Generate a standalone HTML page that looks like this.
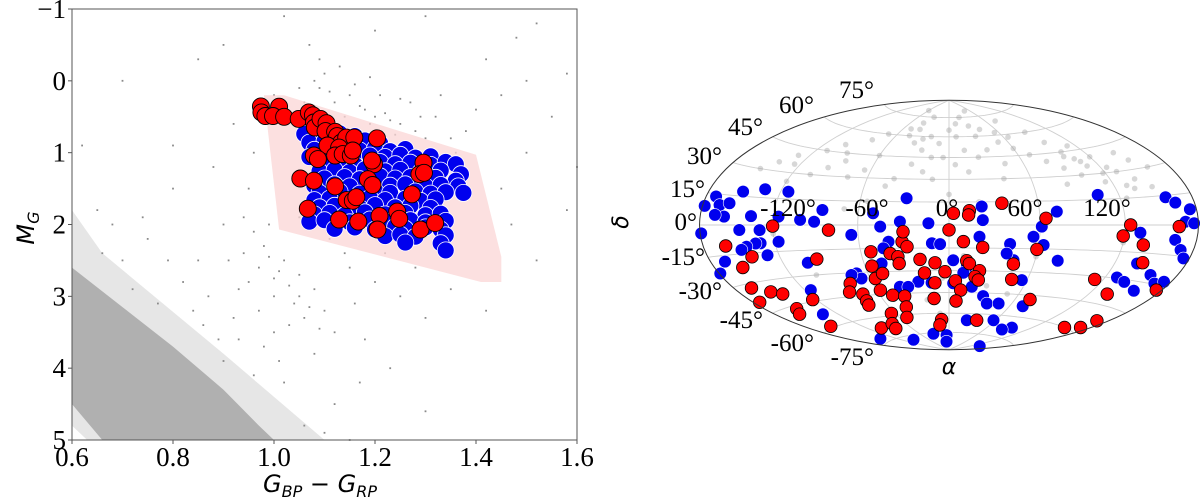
<!DOCTYPE html>
<html><head><meta charset="utf-8"><style>
html,body{margin:0;padding:0;background:#fff;}
svg{display:block;}
.tk{font-family:"Liberation Serif","DejaVu Serif",serif;font-size:27px;fill:#000;}
.sk{font-family:"Liberation Serif","DejaVu Serif",serif;font-size:25px;fill:#000;}
.ax{font-family:"DejaVu Sans","Liberation Sans",sans-serif;font-style:italic;fill:#000;}
</style></head><body>
<svg id="fig" width="1200" height="500" viewBox="0 0 1200 500" xmlns="http://www.w3.org/2000/svg">
<g id="left"></g>
<g id="right"></g>
</svg>
<script>
// ---------- CMD data ----------
const cmdXTicks=[0.6,0.8,1.0,1.2,1.4,1.6];
const cmdXTickLabels=["0.6","0.8","1.0","1.2","1.4","1.6"];
const cmdYTicks=[-1,0,1,2,3,4,5];
const cmdYTickLabels=["\u22121","0","1","2","3","4","5"];
const selectionBox=[[0.98,0.2],[1.02,0.2],[1.40,1.03],[1.45,2.45],[1.45,2.8],[1.41,2.8],[1.01,2.07]];
const mainSequenceBand=[[0.6,2.6],[0.7,3.15],[0.8,3.7],[0.9,4.3],[0.97,4.8],[1.0,5.0],[0.66,5.0],[0.6,4.5]];
const mainSequenceHalo=[[0.6,1.8],[0.66,2.4],[0.78,3.1],[0.9,3.8],[1.0,4.4],[1.1,5.0],[0.63,5.0],[0.6,4.8]];
const cmdGray=[[1.0,0.2],[1.05,0.1],[1.08,0.0],[1.1,-0.1],[1.12,0.3],[1.15,0.2],[1.18,0.4],[1.2,0.5],[1.22,0.45],[1.25,0.6],[1.28,0.7],[1.3,0.8],[1.14,0.5],[1.17,0.35],[1.09,-0.3],[1.13,-0.2],[1.07,-0.5],[1.25,0.25],[1.32,0.5],[1.35,0.8],[1.38,0.7],[1.4,0.4],[1.45,0.2],[1.5,0.0],[1.48,-0.6],[1.52,-0.8],[1.3,-0.9],[1.2,-0.7],[1.02,-0.9],[0.9,-0.5],[0.85,-0.3],[1.42,-0.3],[1.55,0.5],[1.58,-0.1],[1.5,1.0],[1.6,1.2],[1.45,1.5],[1.47,2.0],[1.52,2.5],[1.42,3.2],[1.58,1.8],[0.95,1.5],[0.9,2.0],[0.85,2.5],[0.98,2.3],[1.02,2.5],[1.05,2.7],[1.08,2.9],[1.1,3.2],[1.12,3.5],[1.0,3.0],[0.95,2.8],[0.92,3.3],[0.88,1.2],[0.8,1.5],[0.75,2.2],[0.7,2.5],[0.65,1.8],[0.62,0.9],[0.7,0.0],[0.8,0.9],[1.15,2.6],[1.2,2.8],[1.25,3.0],[1.3,3.3],[1.18,3.6],[1.08,3.8],[1.02,4.2],[1.12,4.5],[1.06,4.8],[0.98,3.7],[0.9,3.9],[1.22,2.4],[1.28,2.6],[1.35,2.9],[1.05,1.9],[0.96,1.0],[0.92,0.6],[1.16,3.1],[1.03,3.4],[0.87,3.0],[0.82,2.8],[0.77,3.1],[0.72,2.9],[0.66,2.4],[0.68,2.0],[1.18,1.9],[0.99,2.0],[1.23,4.0],[1.17,4.2],[1.3,4.6],[1.1,4.9],[1.15,5.0],[0.97,2.6],[1.0,2.75],[1.04,3.1],[1.06,3.3],[0.94,2.4],[1.11,0.15],[1.19,0.6],[1.24,0.75],[1.06,0.3],[0.93,3.6],[0.96,4.1],[1.01,3.9],[0.86,3.4],[0.79,2.5],[0.74,1.9],[1.27,0.3],[1.33,0.2],[1.36,1.0],[0.96,2.1],[0.99,2.45],[1.01,2.65],[1.03,2.85],[1.05,3.0],[1.07,3.15],[1.09,3.45],[0.93,2.9],[0.97,3.2],[1.0,3.5],[0.89,3.6],[0.84,3.2],[0.94,1.9],[0.91,2.5],[1.11,2.2],[1.14,2.4],[1.09,0.1],[1.16,0.05],[1.23,0.55],[1.21,0.2],[1.29,0.5],[1.19,-0.05]];
const cmdBlue=[[1.06,0.74],[1.09,0.78],[1.13,0.73],[1.16,0.77],[1.07,0.86],[1.10,0.84],[1.15,0.88],[1.18,0.83],[1.21,0.87],[1.08,0.96],[1.12,0.93],[1.17,0.97],[1.20,0.94],[1.23,0.98],[1.26,0.95],[1.07,1.06],[1.11,1.03],[1.14,1.07],[1.19,1.04],[1.22,1.06],[1.25,1.03],[1.28,1.07],[1.31,1.05],[1.10,1.16],[1.13,1.14],[1.16,1.17],[1.21,1.13],[1.24,1.16],[1.27,1.14],[1.31,1.17],[1.34,1.13],[1.36,1.16],[1.09,1.26],[1.12,1.24],[1.15,1.27],[1.18,1.23],[1.22,1.26],[1.25,1.24],[1.29,1.27],[1.33,1.25],[1.37,1.30],[1.10,1.36],[1.14,1.34],[1.17,1.37],[1.21,1.33],[1.24,1.36],[1.27,1.34],[1.30,1.38],[1.32,1.35],[1.36,1.39],[1.08,1.46],[1.12,1.44],[1.15,1.47],[1.19,1.43],[1.23,1.46],[1.26,1.44],[1.30,1.47],[1.33,1.45],[1.365,1.47],[1.09,1.56],[1.13,1.54],[1.17,1.57],[1.20,1.53],[1.23,1.56],[1.28,1.54],[1.31,1.57],[1.34,1.55],[1.375,1.56],[1.08,1.66],[1.11,1.64],[1.15,1.67],[1.19,1.63],[1.22,1.66],[1.26,1.64],[1.29,1.67],[1.32,1.65],[1.09,1.76],[1.12,1.74],[1.17,1.77],[1.20,1.73],[1.24,1.76],[1.27,1.74],[1.31,1.77],[1.08,1.86],[1.11,1.84],[1.14,1.87],[1.18,1.83],[1.22,1.86],[1.26,1.84],[1.30,1.87],[1.33,1.85],[1.07,1.96],[1.10,1.94],[1.15,1.97],[1.19,1.93],[1.23,1.96],[1.27,1.94],[1.30,1.97],[1.34,1.95],[1.12,2.06],[1.16,2.04],[1.20,2.07],[1.24,2.03],[1.26,2.06],[1.30,2.04],[1.33,2.07],[1.22,2.16],[1.25,2.14],[1.28,2.17],[1.34,2.15],[1.26,2.25],[1.33,2.26],[1.34,2.36]];
const cmdRed=[[0.974,0.356],[0.975,0.44],[0.983,0.49],[1.01,0.36],[0.998,0.49],[1.02,0.50],[1.049,0.53],[1.069,0.44],[1.077,0.48],[1.079,0.58],[1.081,0.65],[1.092,0.53],[1.104,0.59],[1.102,0.70],[1.121,0.71],[1.125,0.77],[1.133,0.86],[1.143,0.79],[1.159,0.79],[1.106,0.90],[1.129,0.93],[1.121,1.04],[1.136,1.02],[1.152,1.04],[1.156,0.97],[1.204,0.80],[1.079,1.04],[1.087,1.09],[1.198,1.16],[1.194,1.11],[1.296,1.14],[1.288,1.30],[1.297,1.28],[1.052,1.36],[1.079,1.39],[1.121,1.47],[1.186,1.37],[1.195,1.45],[1.144,1.66],[1.156,1.67],[1.163,1.62],[1.273,1.58],[1.067,1.78],[1.129,1.93],[1.167,1.96],[1.209,1.88],[1.205,2.07],[1.244,1.82],[1.248,1.92],[1.29,2.07],[1.319,1.98]];

// ---------- Sky data (RA, Dec in degrees) ----------
const skyLonTicks=[-120,-60,0,60,120];
const skyLonLabels=["-120\u00b0","-60\u00b0","0\u00b0","60\u00b0","120\u00b0"];
const skyLatTicks=[75,60,45,30,15,0,-15,-30,-45,-60,-75];
const skyGray=[[-150,30],[-140,35],[-130,40],[-120,25],[-110,45],[-100,50],[-95,35],[-80,55],[-70,60],[-60,45],[-50,65],[-40,70],[-30,75],[-20,60],[-10,55],[0,65],[10,70],[20,75],[30,60],[40,65],[50,55],[60,50],[70,45],[80,40],[90,35],[100,30],[110,35],[120,40],[130,30],[140,25],[150,20],[160,15],[100,45],[115,25],[125,15],[135,20],[-30,40],[-20,35],[-15,45],[5,40],[15,35],[25,45],[-45,25],[-55,15],[-70,10],[-120,-5],[-140,-10],[-20,-50],[-10,-60],[30,-40],[60,-20],[120,-10],[140,-30],[-100,-30],[0,20],[20,15],[45,80],[-60,80],[90,60],[75,70],[105,40],[112,48],[95,52],[125,33],[-35,55],[-25,50],[-5,45],[35,50],[45,40],[-85,40],[-75,30],[-135,20],[-160,10],[160,30],[145,40],[10,-20],[-35,-25],[25,-30],[-5,-35],[50,-45],[108,38],[118,30],[98,42],[130,22],[-45,60],[-38,65],[-28,58],[8,60],[14,50],[28,68],[55,62],[65,58],[-90,45],[-105,30],[-125,35],[150,35],[-12,30],[-40,30],[40,30],[85,25],[-65,35]];
const skyBlue=[[-178,8.9],[-171,13.7],[-165,9.8],[-157,11],[-159,4.2],[-167,4.9],[-146,-2.6],[-150,17.4],[-137,4.8],[-133,19.6],[-114,19.2],[-116,4.8],[-130,-2.8],[-131,-10],[-135,-10],[-117,-9.5],[-143,-11.5],[-148,-13],[-129,-16.7],[-167,-18],[-179,-23],[-179,-3.9],[-100,3],[-90,2],[-85,9.1],[-101,-22.4],[-115,-38.5],[-135,-52.6],[-28.6,17.3],[-50,7.4],[-45,-1],[-64.6,-6.2],[-32,2.2],[-40,-10.7],[-44,-14.9],[-13.4,1.1],[-11.3,-11.9],[-5.9,-12.4],[21.6,12],[22,3.2],[20,-7.6],[2.9,-23],[12.7,-27.3],[10.5,-31.4],[-23.8,-37.4],[-39.6,-40.5],[-32.9,-40.7],[-47.5,-24.7],[-68.5,-30.5],[-66.7,-33.9],[-73,-31.4],[-13.6,-38.1],[3.3,-38.6],[30,-47.2],[36.3,-52.3],[47.5,-51.9],[57.2,-64],[23.2,-65.1],[-5.5,-77.2],[-32.8,-75.7],[-96.6,-78.3],[-144,-72.4],[-9.6,-82.7],[143,-82.4],[94.8,-67.4],[86.4,-69.7],[18.4,-40.9],[44.8,-22.5],[40.6,-12.2],[56,-35.4],[72.8,-52.6],[55.8,-7.4],[63.4,-12.5],[61,-1],[71.8,8.3],[76.4,-22.1],[39.2,-18.3],[104,17.7],[129.8,-29.5],[139,-31.3],[155.6,-34.8],[131.8,-4.2],[137.8,-20.9],[156,-25.9],[166.5,-29.5],[173.5,-27.8],[156.5,14.1],[163,11.1],[174,7.4],[168.5,1.6],[161,-7.4],[168.5,-12.1],[174.6,-15.9],[176,0.8]];
const skyRed=[[-160,-10.5],[-155,-21.9],[-142,-17],[-164,-32.3],[-174,-39.2],[-151,-36],[-143,-38.2],[-120,-0.6],[-150,-46.7],[-157,-49.5],[-123,-43.9],[-93,-20.5],[-80,-3.1],[-154,-59.1],[-78,-36.7],[-84,-42.1],[-74,-44],[-76,-48.6],[-78,-51.5],[-53,-17],[-55,-26.2],[-56,-34.3],[-49,-31.2],[-57,-42.2],[-102,-67.1],[-40,-18.3],[-35,-20.5],[-35,-24.9],[-31,-10.8],[-30,-4.3],[-28,-14],[-49,-46],[-39,-47],[-43,-54.6],[-51,-62.1],[-64,-58.4],[-78,-65.4],[-84,-69],[-20,-22.4],[-18,-31.4],[-9.8,-24.7],[-11,-38.2],[-2.9,-30.7],[0,-3.2],[2.9,7.6],[13.4,9.3],[12.8,6.5],[9.5,-10.8],[22.5,-14.5],[12.3,-23.3],[14.3,-25.2],[22.1,-29.9],[19.5,-34],[22.5,-36.2],[4.9,-36.9],[9.7,-43.3],[6.5,-51],[-13.5,-49.2],[-9.5,-64.8],[-13.6,-69],[36,-64.8],[35.3,14],[45.4,-25.1],[48,-35.2],[59.4,-15.4],[73.7,-47.8],[64,4.2],[154.6,-60],[170,-57.2],[169,-52.2],[113,-31.9],[136,-39],[119,-6.2],[124,0],[136,-10.8],[142,-20.2],[175,-32.1],[163,-0.8]];

const NS="http://www.w3.org/2000/svg";
function mk(parent,tag,attrs){const e=document.createElementNS(NS,tag);for(const k in attrs)e.setAttribute(k,attrs[k]);parent.appendChild(e);return e;}

// ---------- Left panel ----------
const L=document.getElementById('left');
const X0=72,X1=577,Y0=9,Y1=440;
const sx=v=>X0+(v-0.6)/(1.6-0.6)*(X1-X0);
const sy=v=>Y0+(v+1)/6*(Y1-Y0);
const ptsStr=arr=>arr.map(p=>sx(p[0]).toFixed(1)+','+sy(p[1]).toFixed(1)).join(' ');

const halo=mk(L,'polygon',{points:ptsStr(mainSequenceHalo),fill:'#dcdcdc','fill-opacity':'0.7'});


const band=mk(L,'polygon',{points:ptsStr(mainSequenceBand),fill:'#b0b0b0'});


cmdGray.forEach(p=>{
  const d=mk(L,'rect',{x:(sx(p[0])-0.9).toFixed(1),y:(sy(p[1])-0.9).toFixed(1),width:1.8,height:1.8,fill:'#8a8a8a'});
  
  
});
const box=mk(L,'polygon',{points:ptsStr(selectionBox),fill:'#fbd6d6','fill-opacity':'0.75'});


cmdBlue.forEach(p=>{
  const c=mk(L,'circle',{cx:sx(p[0]).toFixed(1),cy:sy(p[1]).toFixed(1),r:8.5,fill:'#0000ee',stroke:'#ffffff','stroke-width':0.8});
  
  
});
cmdRed.forEach(p=>{
  const c=mk(L,'circle',{cx:sx(p[0]).toFixed(1),cy:sy(p[1]).toFixed(1),r:8.5,fill:'#ff0000',stroke:'#000','stroke-width':0.9});
  
  
});
const frame=mk(L,'rect',{x:X0,y:Y0,width:X1-X0,height:Y1-Y0,fill:'none',stroke:'#555','stroke-width':1});


cmdXTicks.forEach((t,i)=>{
  const x=sx(t);
  const tl=mk(L,'line',{x1:x,x2:x,y1:Y1,y2:Y1+4,stroke:'#555'});
  
  
  const tx=mk(L,'text',{x:x,y:Y1+26,'text-anchor':'middle',class:'tk'});
  tx.textContent=cmdXTickLabels[i];
  
  
});
cmdYTicks.forEach((t,i)=>{
  const y=sy(t);
  const tl=mk(L,'line',{x1:X0-4,x2:X0,y1:y,y2:y,stroke:'#555'});
  
  
  const tx=mk(L,'text',{x:X0-6,y:y+9,'text-anchor':'end',class:'tk'});
  tx.textContent=cmdYTickLabels[i];
  
  
});
const xl=mk(L,'text',{x:320,y:492,'text-anchor':'middle',class:'ax','font-size':'24'});
xl.innerHTML='G<tspan font-size="16" dy="5">BP</tspan><tspan dy="-5" font-style="normal"> \u2212 </tspan>G<tspan font-size="16" dy="5">RP</tspan>';


const yl=mk(L,'text',{x:0,y:0,'text-anchor':'middle',class:'ax','font-size':'24',transform:'translate(34,228) rotate(-90)'});
yl.innerHTML='M<tspan font-size="16" dy="5">G</tspan>';



// ---------- Right panel (Hammer projection) ----------
const Rg=document.getElementById('right');
const CX=949,CY=225,RS=88.2;
function proj(lon,lat){
  const l=lon*Math.PI/180/2,p=lat*Math.PI/180;
  const d=Math.sqrt(1+Math.cos(p)*Math.cos(l));
  return [CX+RS*2*Math.SQRT2*Math.cos(p)*Math.sin(l)/d, CY-RS*Math.SQRT2*Math.sin(p)/d];
}
const bg=mk(Rg,'ellipse',{cx:CX,cy:CY,rx:2*Math.SQRT2*RS,ry:Math.SQRT2*RS,fill:'#fff'});


for(let lat=-75;lat<=75;lat+=15){
  let d='';
  for(let lon=-180;lon<=180;lon+=5){const q=proj(lon,lat);d+=(lon===-180?'M':'L')+q[0].toFixed(1)+','+q[1].toFixed(1);}
  const g=mk(Rg,'path',{d:d,fill:'none',stroke:'#cfcfcf','stroke-width':0.9});
  
  
}
skyLonTicks.forEach(lon=>{
  let d='';
  for(let lat=-90;lat<=90;lat+=3){const q=proj(lon,lat);d+=(lat===-90?'M':'L')+q[0].toFixed(1)+','+q[1].toFixed(1);}
  const g=mk(Rg,'path',{d:d,fill:'none',stroke:'#cfcfcf','stroke-width':0.9});
  
  
});
skyGray.forEach(p=>{
  const q=proj(p[0],p[1]);
  const c=mk(Rg,'circle',{cx:q[0].toFixed(1),cy:q[1].toFixed(1),r:2.8,fill:'#9a9a9a','fill-opacity':'0.4'});
  
  
});
skyBlue.forEach(p=>{
  const q=proj(p[0],p[1]);
  const c=mk(Rg,'circle',{cx:q[0].toFixed(1),cy:q[1].toFixed(1),r:6.3,fill:'#0000ee',stroke:'#fff','stroke-width':0.6});
  
  
});
skyRed.forEach(p=>{
  const q=proj(p[0],p[1]);
  const c=mk(Rg,'circle',{cx:q[0].toFixed(1),cy:q[1].toFixed(1),r:6.3,fill:'#ff0000',stroke:'#000','stroke-width':0.8});
  
  
});
const outline=mk(Rg,'ellipse',{cx:CX,cy:CY,rx:2*Math.SQRT2*RS,ry:Math.SQRT2*RS,fill:'none',stroke:'#333','stroke-width':1});


const lonLabelX=[788,867,947,1025,1107];
skyLonLabels.forEach((s,i)=>{
  const t=mk(Rg,'text',{x:lonLabelX[i],y:216,'text-anchor':'middle',class:'sk'});
  t.textContent=s;
  
  
});
const latLabelPos=[[874,98],[814,113],[763,135],[722,164],[705,197],[697,230],[705,265],[722,299],[763,328],[814,351],[874,365]];
skyLatTicks.forEach((v,i)=>{
  const t=mk(Rg,'text',{x:latLabelPos[i][0],y:latLabelPos[i][1],'text-anchor':'end',class:'sk'});
  t.textContent=v+'\u00b0';
  
  
});
const al=mk(Rg,'text',{x:949,y:374,'text-anchor':'middle',class:'ax','font-size':'22'});
al.textContent='\u03b1';


const dl=mk(Rg,'text',{x:0,y:0,'text-anchor':'middle',class:'ax','font-size':'22',transform:'translate(628,222) rotate(-90)'});
dl.textContent='\u03b4';


</script>
</body></html>
